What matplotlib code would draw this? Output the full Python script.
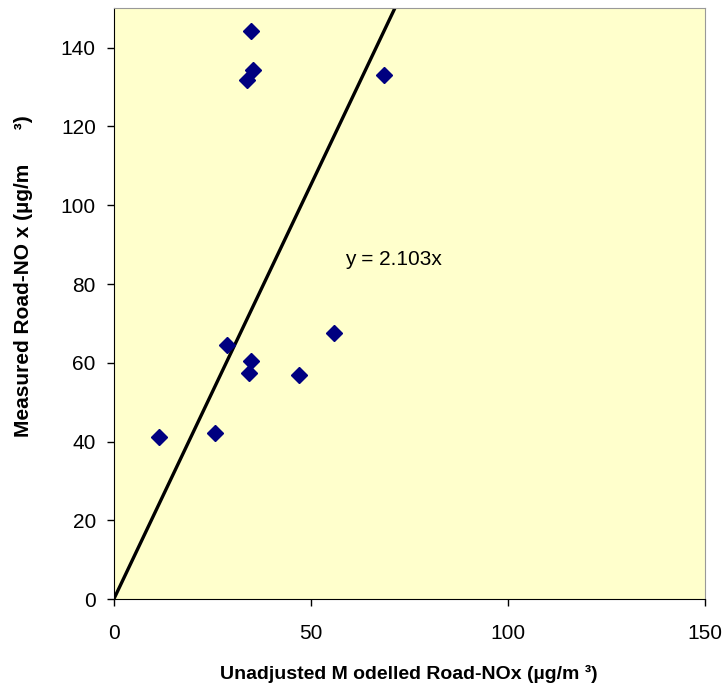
import numpy as np
import matplotlib.pyplot as plt

plt.rcParams['font.family'] = ['Liberation Sans', 'DejaVu Sans']

# data
modelled = [34.8, 35.4, 33.7, 68.6, 28.8, 34.8, 34.3, 46.9, 55.9, 11.4, 25.8]
measured = [144.2, 134.3, 131.7, 133.2, 64.4, 60.4, 57.3, 57.0, 67.6, 41.1, 42.1]
slope = 2.103
x_ticks = [0, 50, 100, 150]
y_ticks = [0, 20, 40, 60, 80, 100, 120, 140]

fig = plt.figure(figsize=(7.25, 6.95), dpi=100)
ax = fig.add_axes([0.157, 0.138, 0.815, 0.850])
ax.set_facecolor('#FFFFCC')

fit_x = np.array([0, 150])
ax.plot(fit_x, slope * fit_x, color='black', linewidth=2.4, zorder=2)
ax.plot(modelled, measured, linestyle='none', marker='D', markersize=8,
        color='#000080', zorder=3)

ax.text(58.6, 86.1, 'y = 2.103x', fontsize=15, va='center', ha='left')

ax.set_xlim(0, 150)
ax.set_ylim(0, 150)
ax.set_xticks(x_ticks)
ax.set_yticks(y_ticks)
ax.tick_params(labelsize=15, direction='out', length=5, width=1, pad=13)
ax.tick_params(axis='y', pad=8)

for side in ['top', 'right']:
    ax.spines[side].set_color('#999999')
for side in ['left', 'bottom']:
    ax.spines[side].set_color('black')

ax.set_xlabel('Unadjusted M odelled Road-NOx (µg/m ³)', fontsize=14,
              fontweight='bold', labelpad=16)
ax.set_ylabel('Measured Road-NO x (µg/m      ³)', fontsize=15,
              fontweight='bold')
ax.yaxis.set_label_coords(-0.137, 0.547)

fig.savefig('out.png', dpi=100)
